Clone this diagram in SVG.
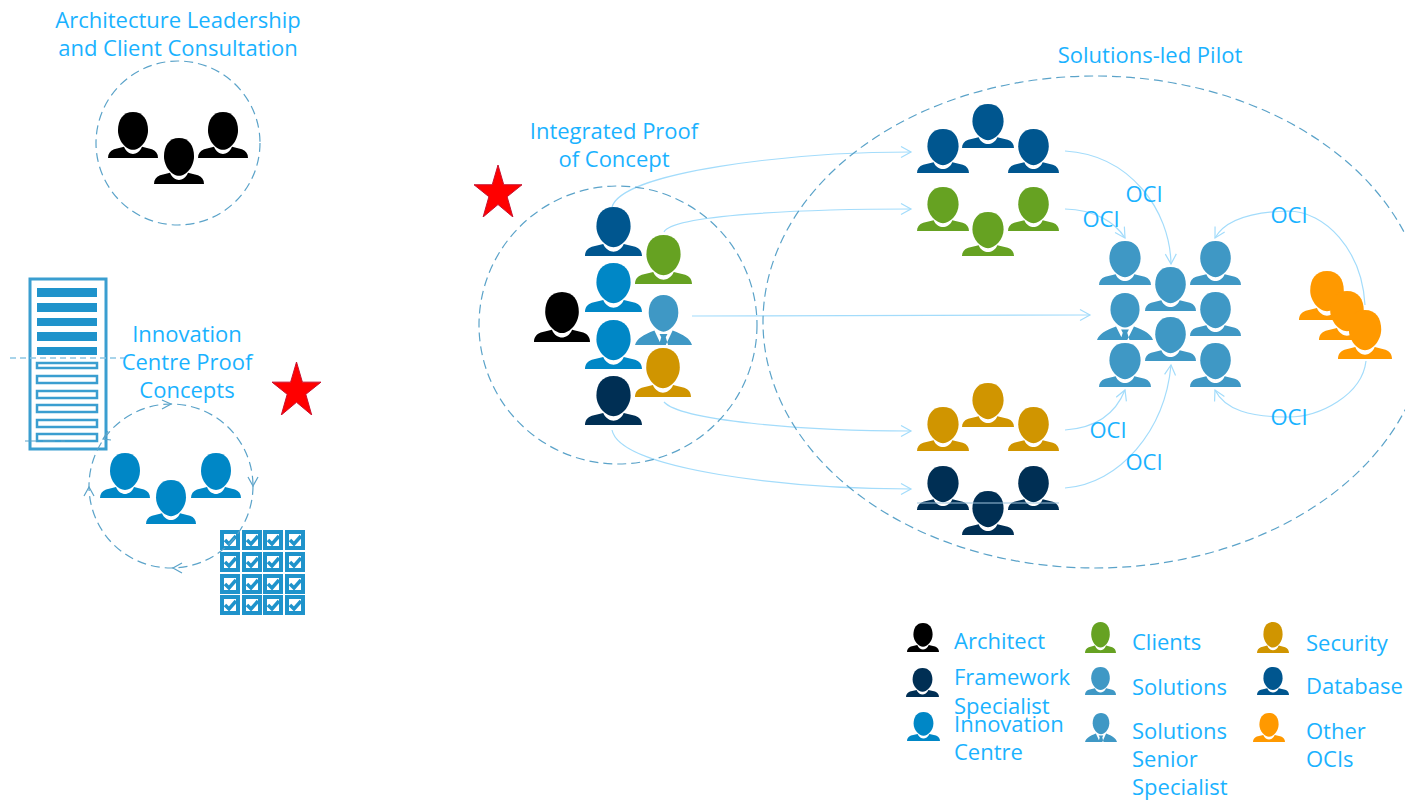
<svg xmlns="http://www.w3.org/2000/svg" width="1405" height="801" viewBox="0 0 1405 801">
<style>
text{font-family:"Open Sans","Noto Sans","Liberation Sans",sans-serif;font-size:22px;fill:#1ab2ff}
.m{text-anchor:middle}
.dash{fill:none;stroke:#5ba3c9;stroke-width:1.2;stroke-dasharray:9 5}
.con{fill:none;stroke:#a3dcfb;stroke-width:1.2;marker-end:url(#arr)}
.chev{fill:none;stroke:#5ba3c9;stroke-width:1.2}
.bk{fill:#000}.db{fill:#00568f}.cl{fill:#66a222}.in{fill:#0087c6}.so{fill:#3f98c5}.se{fill:#d09500}.fw{fill:#002f54}.ot{fill:#ff9900}
.bar{fill:#1f93cb}.hol{fill:#fff;stroke:#3a9ed0;stroke-width:2.5}
</style>
<defs>
<marker id="arr" markerUnits="userSpaceOnUse" markerWidth="14" markerHeight="14" refX="11" refY="6" orient="auto"><path d="M1 0.5L11 6L1 11.5" fill="none" stroke="#a3dcfb" stroke-width="1.2"/></marker>
<symbol id="p" viewBox="0 0 100 90" preserveAspectRatio="none"><path d="M50 0C70 0 80 15 80 36C80 56 64 74 50 74C36 74 20 56 20 36C20 15 30 0 50 0Z"/><path d="M0 90C0 82 4 76 12 73L32 68C36 78 44 82 50 82C56 82 64 78 68 68L88 73C96 76 100 82 100 90Z"/></symbol>
<symbol id="ps" viewBox="0 0 100 90" preserveAspectRatio="none"><path d="M50 0C66 0 76 12 76 32C76 52 60 66 50 66C40 66 24 52 24 32C24 12 34 0 50 0Z"/><path d="M0 90C4 78 14 72 34 64L46 90ZM100 90C96 78 86 72 66 64L54 90ZM43 70H57L54 76L58 90H42L46 76Z"/></symbol>
<symbol id="star" viewBox="0 0 100 100" preserveAspectRatio="none"><polygon points="50,0 62,38 100,38 69,61 81,100 50,76 19,100 31,61 0,38 38,38" fill="#f00" stroke="#c8102e" stroke-width="1" vector-effect="non-scaling-stroke"/></symbol>
<symbol id="tick" viewBox="0 0 20 20"><rect x="2" y="2" width="16" height="16" fill="#fff" stroke="#1f93cb" stroke-width="4"/><path d="M5 10L9 14L16 6" fill="none" stroke="#1f93cb" stroke-width="3.5"/></symbol>
</defs>

<g id="rack">
<rect x="30" y="279" width="76" height="170" fill="#fff" stroke="#3a9ed0" stroke-width="3"/>
<rect class="bar" x="37" y="288" width="60" height="9"/><rect class="bar" x="37" y="303" width="60" height="9"/><rect class="bar" x="37" y="318" width="60" height="8"/><rect class="bar" x="37" y="332" width="60" height="9"/><rect class="bar" x="37" y="347" width="60" height="8"/>
<rect class="hol" x="37" y="363" width="60" height="5"/><rect class="hol" x="37" y="376" width="60" height="7"/><rect class="hol" x="37" y="391" width="60" height="7"/><rect class="hol" x="37" y="405" width="60" height="7"/><rect class="hol" x="37" y="420" width="60" height="7"/><rect class="hol" x="37" y="434" width="60" height="7"/>
<path d="M10 358H125" fill="none" stroke="#8cc6e4" stroke-width="1.5" stroke-dasharray="6 4"/>
<path d="M25 441H65" fill="none" stroke="#5ba3c9" stroke-width="1" stroke-dasharray="12 6"/>
</g>

<g id="checklist">
<use href="#tick" x="220" y="530" width="20" height="20"/><use href="#tick" x="242" y="530" width="20" height="20"/><use href="#tick" x="263" y="530" width="20" height="20"/><use href="#tick" x="285" y="530" width="20" height="20"/>
<use href="#tick" x="220" y="552" width="20" height="20"/><use href="#tick" x="242" y="552" width="20" height="20"/><use href="#tick" x="263" y="552" width="20" height="20"/><use href="#tick" x="285" y="552" width="20" height="20"/>
<use href="#tick" x="220" y="574" width="20" height="20"/><use href="#tick" x="242" y="574" width="20" height="20"/><use href="#tick" x="263" y="574" width="20" height="20"/><use href="#tick" x="285" y="574" width="20" height="20"/>
<use href="#tick" x="220" y="595" width="20" height="20"/><use href="#tick" x="242" y="595" width="20" height="20"/><use href="#tick" x="263" y="595" width="20" height="20"/><use href="#tick" x="285" y="595" width="20" height="20"/>
</g>

<g id="connectors">
<path class="con" d="M612 207C622 172 790 152 911 152"/>
<path class="con" d="M664 232C672 215 800 209 911 209"/>
<path class="con" d="M692 316L1090 315"/>
<path class="con" d="M664 402C680 420 800 431 911 431"/>
<path class="con" d="M612 430C620 470 790 489 911 489"/>
<path class="con" d="M1065 151C1130 155 1170 210 1171 264"/>
<path class="con" d="M1065 209C1095 210 1115 222 1125 238"/>
<path class="con" d="M1365 305C1362 250 1325 211 1288 211C1250 212 1225 220 1215 238"/>
<path class="con" d="M1065 430C1095 428 1115 415 1125 390"/>
<path class="con" d="M1065 488C1120 484 1165 430 1171 365"/>
<path class="con" d="M1366 361C1362 395 1320 417 1288 417C1250 417 1225 410 1215 390"/>
<circle class="dash" cx="178" cy="143" r="82"/>
<circle class="dash" cx="618" cy="325" r="139"/>
<ellipse class="dash" cx="1095" cy="322" rx="332" ry="246"/>
<circle class="dash" cx="171" cy="486" r="82"/>
<path class="chev" d="M162 400L171 404L162 409M248 477L253 486L258 477M182 563L173 568L182 573M84 496L89 487L94 496M108 431L103 439L111 440"/>
</g>

<g id="architecture-team" class="bk">
<use href="#p" x="108" y="112" width="50" height="46"/><use href="#p" x="198" y="112" width="50" height="46"/><use href="#p" x="154" y="138" width="50" height="46"/>
</g>
<g id="innovation-team" class="in">
<use href="#p" x="100" y="453" width="50" height="45"/><use href="#p" x="191" y="453" width="50" height="45"/><use href="#p" x="146" y="480" width="50" height="44"/>
</g>
<g id="poc-team">
<use class="db" href="#p" x="585" y="207" width="57" height="49"/>
<use class="cl" href="#p" x="635" y="235" width="57" height="49"/>
<use class="in" href="#p" x="585" y="263" width="57" height="49"/>
<use class="so" href="#ps" x="635" y="295" width="57" height="50"/>
<use class="in" href="#p" x="585" y="320" width="57" height="49"/>
<use class="se" href="#p" x="635" y="348" width="56" height="49"/>
<use class="fw" href="#p" x="585" y="376" width="57" height="49"/>
<use class="bk" href="#p" x="534" y="292" width="56" height="50"/>
</g>
<g id="database-team" class="db">
<use href="#p" x="917" y="129" width="52" height="44"/><use href="#p" x="962" y="104" width="52" height="44"/><use href="#p" x="1008" y="129" width="51" height="44"/>
</g>
<g id="clients-team" class="cl">
<use href="#p" x="917" y="187" width="52" height="44"/><use href="#p" x="962" y="212" width="52" height="44"/><use href="#p" x="1008" y="187" width="51" height="44"/>
</g>
<g id="security-team" class="se">
<use href="#p" x="917" y="407" width="52" height="44"/><use href="#p" x="962" y="383" width="52" height="44"/><use href="#p" x="1008" y="407" width="51" height="44"/>
</g>
<g id="framework-team" class="fw">
<use href="#p" x="917" y="466" width="52" height="44"/><use href="#p" x="1008" y="466" width="51" height="44"/><use href="#p" x="962" y="491" width="52" height="44"/>
<path d="M917 503H1059" stroke="#9fc4dc" fill="none"/>
</g>
<g id="solutions-team" class="so">
<use href="#p" x="1099" y="241" width="52" height="44"/><use href="#p" x="1190" y="241" width="51" height="44"/><use href="#p" x="1145" y="267" width="51" height="44"/>
<use href="#ps" x="1097" y="293" width="56" height="47"/><use href="#p" x="1190" y="292" width="51" height="44"/><use href="#p" x="1145" y="317" width="51" height="44"/>
<use href="#p" x="1099" y="343" width="52" height="44"/><use href="#p" x="1190" y="343" width="51" height="44"/>
</g>
<g id="other-ocis" class="ot">
<use href="#p" x="1299" y="271" width="56" height="49"/><use href="#p" x="1319" y="291" width="56" height="49"/><use href="#p" x="1338" y="310" width="54" height="49"/>
</g>
<g id="stars">
<use href="#star" x="474" y="165" width="48" height="52"/>
<use href="#star" x="272" y="362" width="49" height="53"/>
</g>

<g id="labels">
<text class="m" x="178" y="28">Architecture Leadership</text>
<text class="m" x="178" y="56">and Client Consultation</text>
<text class="m" x="1150" y="63">Solutions-led Pilot</text>
<text class="m" x="614" y="139">Integrated Proof</text>
<text class="m" x="614" y="167">of Concept</text>
<text class="m" x="187" y="342">Innovation</text>
<text class="m" x="187" y="370">Centre Proof</text>
<text class="m" x="187" y="398">Concepts</text>
<text class="m" x="1144" y="202">OCI</text>
<text class="m" x="1101" y="227">OCI</text>
<text class="m" x="1289" y="223">OCI</text>
<text class="m" x="1108" y="438">OCI</text>
<text class="m" x="1144" y="470">OCI</text>
<text class="m" x="1289" y="425">OCI</text>
</g>

<g id="legend">
<use class="bk" href="#p" x="907" y="623" width="32" height="29"/>
<use class="fw" href="#p" x="906" y="668" width="33" height="29"/>
<use class="in" href="#p" x="907" y="712" width="33" height="29"/>
<use class="cl" href="#p" x="1085" y="622" width="31" height="31"/>
<use class="so" href="#p" x="1085" y="667" width="31" height="28"/>
<use class="so" href="#ps" x="1085" y="713" width="32" height="29"/>
<use class="se" href="#p" x="1257" y="622" width="32" height="31"/>
<use class="db" href="#p" x="1257" y="667" width="32" height="28"/>
<use class="ot" href="#p" x="1253" y="713" width="32" height="29"/>
<text x="954" y="649">Architect</text>
<text x="954" y="685">Framework</text>
<text x="954" y="714">Specialist</text>
<text x="954" y="732">Innovation</text>
<text x="954" y="760">Centre</text>
<text x="1132" y="650">Clients</text>
<text x="1132" y="695">Solutions</text>
<text x="1132" y="739">Solutions</text>
<text x="1132" y="767">Senior</text>
<text x="1132" y="795">Specialist</text>
<text x="1306" y="651">Security</text>
<text x="1306" y="694">Database</text>
<text x="1306" y="739">Other</text>
<text x="1306" y="767">OCIs</text>
</g>
</svg>
